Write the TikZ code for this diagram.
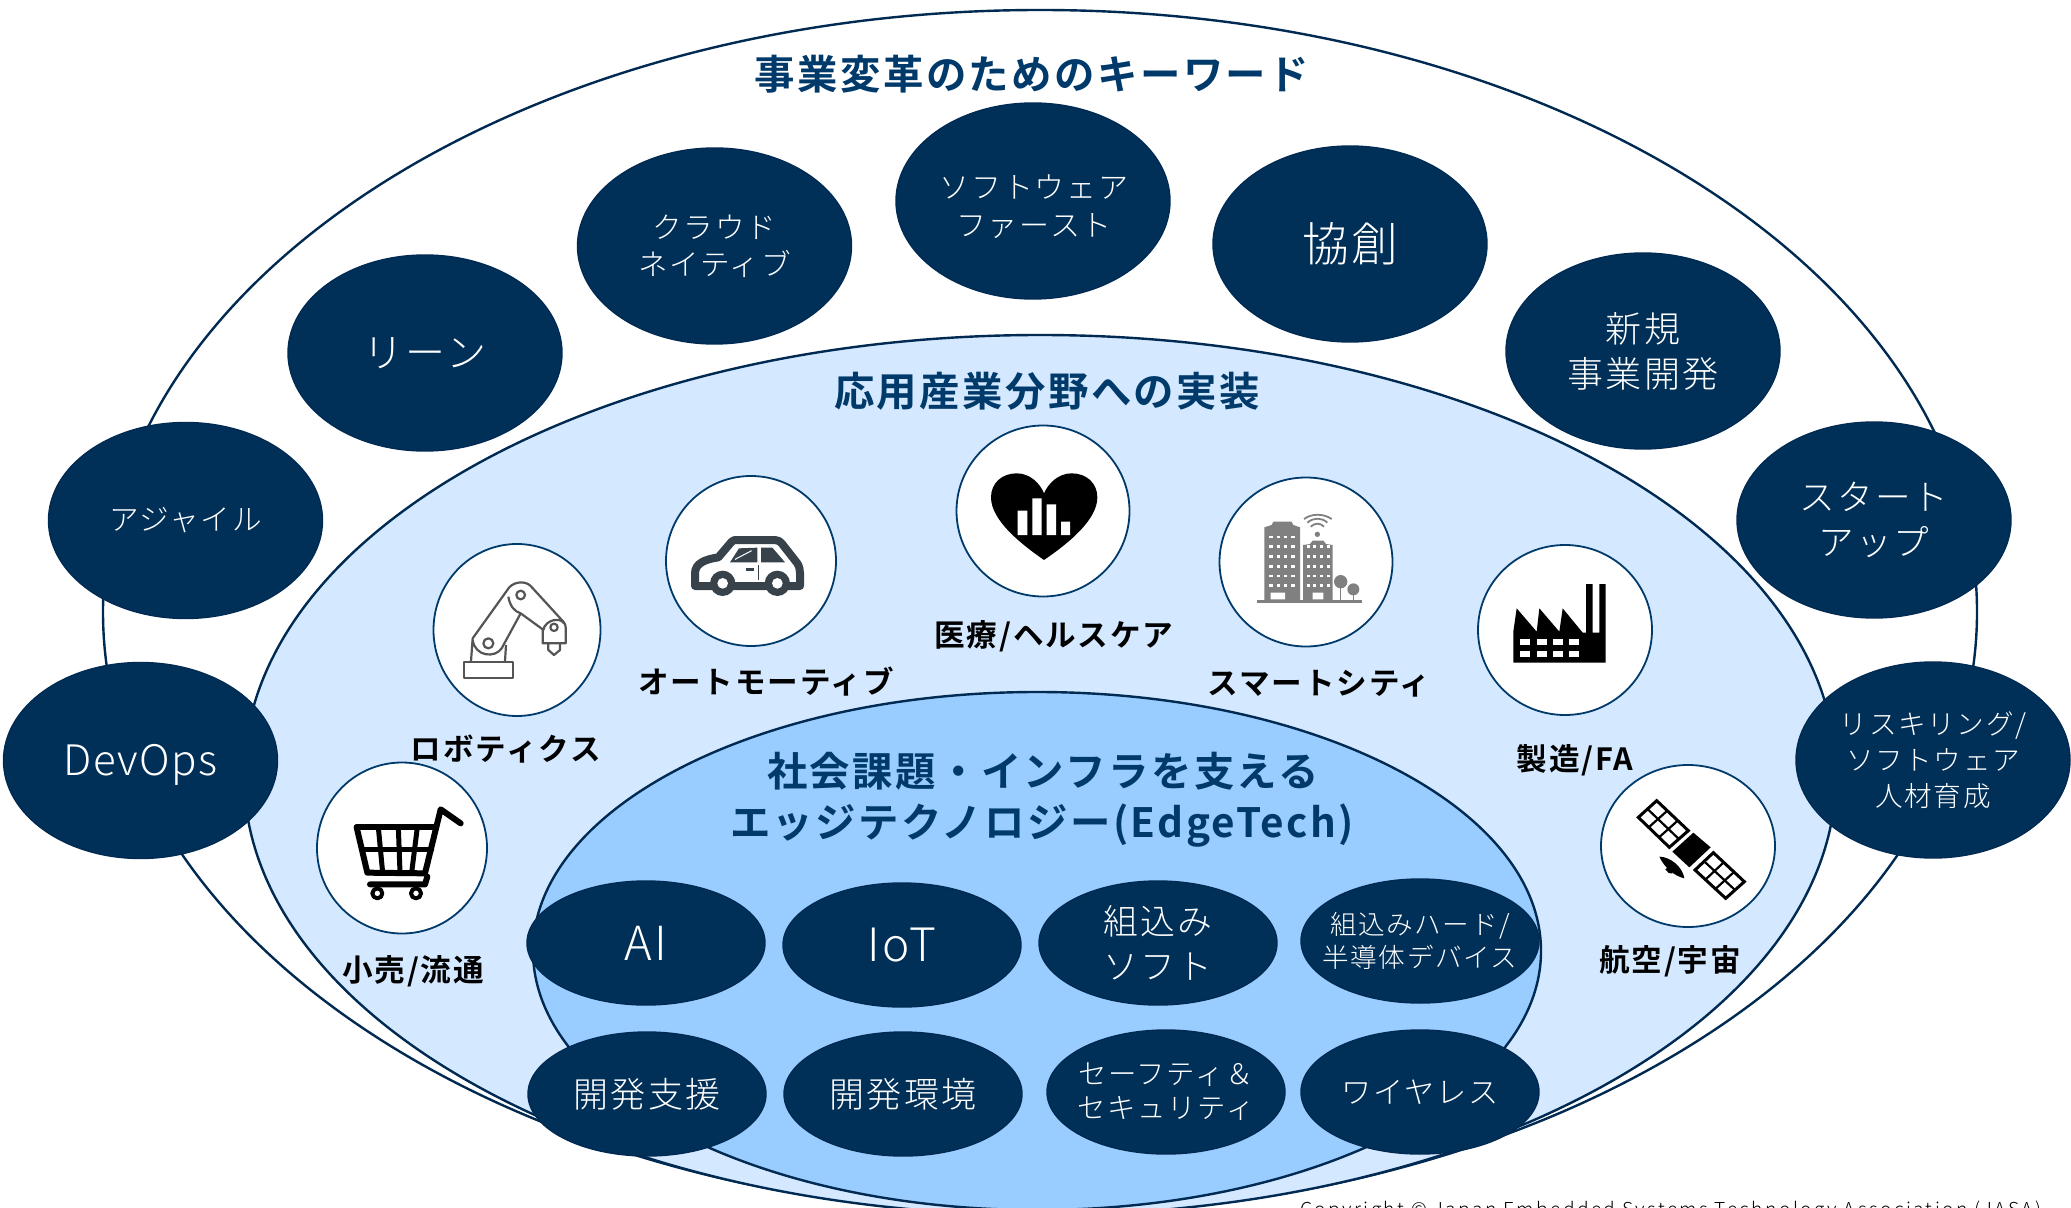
\documentclass[tikz,border=0pt]{standalone}
\usepackage{fontspec}
\usetikzlibrary{shapes.geometric}
\newfontfamily\jpl[LetterSpace=6]{Noto Sans CJK JP Light}
\newfontfamily\jpb[LetterSpace=6]{Noto Sans CJK JP Bold}
\newfontfamily\devfont[LetterSpace=3]{Noto Sans CJK JP Light}
\newfontfamily\copyfont[LetterSpace=12.5]{Noto Sans CJK JP Light}
\newcommand{\fsz}[2]{\fontsize{#1pt}{#2pt}\selectfont}
\definecolor{navy}{HTML}{003058}
\definecolor{edge}{HTML}{002A52}
\definecolor{titlec}{HTML}{003A6B}
\definecolor{lightb}{HTML}{D4E8FF}
\definecolor{midb}{HTML}{99CCFF}
\definecolor{carc}{HTML}{37424A}
\definecolor{citygray}{HTML}{808080}
\definecolor{robotc}{HTML}{555555}
\tikzset{
  bigell/.style={ellipse,draw=edge,line width=1.2pt,inner sep=0pt,outer sep=0pt},
  dark/.style={ellipse,draw=edge,fill=navy,line width=.7pt,text=white,inner sep=-15pt,outer sep=0pt,align=center},
  bigdark/.style={dark,minimum width=137pt,minimum height=98pt},
  smalldark/.style={dark,minimum width=119pt,minimum height=62pt},
  iconc/.style 2 args={ellipse,draw=titlec,fill=white,line width=.9pt,minimum width=#1,minimum height=#2,inner sep=0pt,outer sep=0pt},
  lab/.style={font=\jpb\fsz{15.3}{18},text=black,inner sep=0pt},
  ttl/.style={font=\jpb\fsz{20.2}{24},text=titlec,inner sep=0pt},
  inell/.style={text=white,align=center,inner sep=0pt},
  zm/.style={x=.16667pt,y=-.16667pt},
}
\begin{document}
\begin{tikzpicture}[x=.5pt,y=-.5pt]
\useasboundingbox (0,0) rectangle (2071,1208);
\clip (0,0) rectangle (2071,1208);
\fill[white] (0,0) rectangle (2071,1208);
% nested ellipses
\node[bigell,fill=white,minimum width=937pt,minimum height=602pt] (outer) at (1040,612) {};
\node[bigell,fill=lightb,minimum width=796pt,minimum height=440pt] (middle) at (1040,775) {};
\node[bigell,fill=midb,minimum width=504pt,minimum height=259pt] (inner) at (1037,951) {};
% titles
\node[ttl] (t1) at (1032,74) {事業変革のためのキーワード};
\node[ttl] (t2) at (1047,391) {応用産業分野への実装};
\node[ttl] (t3) at (1043,771) {社会課題・インフラを支える};
\node[ttl] (t4) at (1042,826) {エッジテクノロジー(EdgeTech)};
% outer ring
\node[bigdark,font=\jpl\fsz{14.8}{18}] (agile) at (185.5,520.5) {アジャイル};
\node[bigdark] (devops) at (140.5,760.5) {};
\node[inell,font=\devfont\fsz{21}{26}] (devopst) at (140.5,765) {DevOps};
\node[bigdark,font=\jpl\fsz{20}{24}] (lean) at (425,353) {リーン};
\node[bigdark,font=\jpl\fsz{14.8}{18.5}] (cloud) at (714.5,246) {クラウド\\ネイティブ};
\node[bigdark] (sw) at (1033,201) {};
\node[inell,font=\jpl\fsz{15}{19}] (swt) at (1034,207) {ソフトウェア\\ファースト};
\node[bigdark,font=\jpl\fsz{23.3}{28}] (kyoso) at (1350,244) {協創};
\node[bigdark,font=\jpl\fsz{18}{22.5}] (shinki) at (1643,351) {新規\\事業開発};
\node[bigdark,font=\jpl\fsz{17.8}{22.5}] (startup) at (1874,520) {スタート\\アップ};
\node[bigdark,font=\jpl\fsz{13.8}{18}] (reskill) at (1933,760) {リスキリング/\\ソフトウェア\\人材育成};
% inner ellipses
\node[smalldark,font=\jpl\fsz{23.5}{26}] (ai) at (646,943) {AI};
\node[smalldark,font=\jpl\fsz{23}{26}] (iot) at (902,945) {IoT};
\node[smalldark,font=\jpl\fsz{17.4}{22.5}] (kumi) at (1158,943) {組込み\\ソフト};
\node[smalldark,font=\jpl\fsz{13.3}{16.5}] (hard) at (1420,941) {組込みハード/\\半導体デバイス};
\node[smalldark,font=\jpl\fsz{17.5}{22}] (dev) at (647,1094) {開発支援};
\node[smalldark,font=\jpl\fsz{17.5}{22}] (env) at (903,1094) {開発環境};
\node[smalldark,font=\jpl\fsz{14.2}{17}] (safe) at (1166,1092) {セーフティ＆\\セキュリティ};
\node[smalldark,font=\jpl\fsz{15.1}{18}] (wire) at (1420,1092) {ワイヤレス};
% icon circles
\node[iconc={83.5pt}{86pt}] (crobot) at (517,630) {};
\node[iconc={85pt}{85pt}] (ccar) at (751,561) {};
\node[iconc={86.5pt}{85.5pt}] (cheart) at (1043,511) {};
\node[iconc={86.5pt}{84.5pt}] (ccity) at (1306,562) {};
\node[iconc={87pt}{85pt}] (cfact) at (1565,630) {};
\node[iconc={85pt}{85.5pt}] (ccart) at (402,848) {};
\node[iconc={87pt}{81pt}] (csat) at (1688,846) {};
% labels
\node[lab] (lrobot) at (506,749) {ロボティクス};
\node[lab] (lcar) at (766,682) {オートモーティブ};
\node[lab] (lheart) at (1054,636) {医療/ヘルスケア};
\node[lab] (lcity) at (1319,684) {スマートシティ};
\node[lab] (lfact) at (1575,760) {製造/FA};
\node[lab] (lcart) at (413,971) {小売/流通};
\node[lab] (lsat) at (1670,961) {航空/宇宙};
\node[font=\copyfont\fsz{9.6}{12},text=black,anchor=base west,inner sep=0pt] (copy) at (1300,1216) {Copyright © Japan Embedded Systems Technology Association (JASA)};
% robot
\begin{scope}[shift={(400,500)},zm,draw=robotc,line width=1.1pt,line join=round]
 \draw (192,485) rectangle (340,535);
 \draw (213,483) -- (218,415) -- (322,270) .. controls (335,245) and (375,240) .. (392,258) -- (490,365) .. controls (495,372) and (497,375) .. (497,382) -- (497,430) -- (428,430) -- (428,388) -- (362,340) -- (305,445) .. controls (285,475) and (225,470) .. (218,420);
 \draw (315,483) -- (318,435);
 \draw (362,340) .. controls (345,335) and (330,320) .. (325,290);
 \draw (430,390) .. controls (435,360) and (480,350) .. (492,370);
 \draw (362,285) circle (13);
 \draw (265,430) circle (15);
 \draw (462,382) circle (11);
 \draw (445,430) -- (445,450) -- (462,465) -- (480,450) -- (480,430);
\end{scope}
% car
\begin{scope}[shift={(400,500)},zm]
 \draw[carc,fill=white,line width=4pt,line join=round] (885,258) -- (885,220) .. controls (885,190) and (915,178) .. (955,172) -- (995,125) .. controls (1000,120) and (1005,120) .. (1010,120) -- (1125,120) .. controls (1135,120) and (1140,125) .. (1145,130) -- (1192,190) .. controls (1198,200) and (1200,210) .. (1200,220) -- (1200,258) -- cycle;
 \fill[carc] (990,187) -- (1017,145) -- (1072,143) -- (1072,187) -- cycle;
 \fill[carc] (1083,143) -- (1117,143) -- (1155,187) -- (1083,187) -- cycle;
 \draw[white,line width=.5pt] (1005,178) -- (1055,152);
 \draw[carc,line width=.5pt] (1076,195) -- (1076,240);
 \fill[carc] (1038,203) rectangle (1062,212);
 \fill[carc] (968,250) circle (38) (1132,250) circle (38);
 \fill[white] (968,250) circle (16) (1132,250) circle (16);
\end{scope}
% heart
\begin{scope}[shift={(920,420)},zm]
 \fill[black] (372,420) .. controls (300,370) and (213,300) .. (213,232) .. controls (213,190) and (245,160) .. (290,160) .. controls (330,160) and (360,190) .. (372,220) .. controls (385,190) and (415,160) .. (455,160) .. controls (500,160) and (532,190) .. (532,232) .. controls (532,300) and (445,370) .. (372,420) -- cycle;
 \fill[white] (293,272) rectangle (322,345) (337,235) rectangle (365,345) (380,253) rectangle (408,345) (423,305) rectangle (450,345);
\end{scope}
% smart city
\begin{scope}[shift={(920,420)},zm]
 \fill[citygray] (1033,540) -- (1033,322) -- (1055,315) -- (1060,305) -- (1115,305) -- (1120,315) -- (1140,322) -- (1140,540) -- cycle;
 \fill[citygray] (1149,540) -- (1149,375) -- (1170,372) -- (1178,362) -- (1210,362) -- (1218,372) -- (1238,375) -- (1238,540) -- cycle;
 \fill[citygray] (1012,540) rectangle (1325,548);
 \foreach \yy in {347,376,405,435,464,493} \foreach \xx in {1048,1070,1092,1114}
   \fill[white] (\xx,\yy) rectangle +(10,8);
 \foreach \yy in {376,405,435,464,493} \foreach \xx in {1160,1180,1200,1220}
   \fill[white] (\xx,\yy) rectangle +(9,8);
 \fill[white] (1052,518) rectangle (1095,538) (1178,518) rectangle (1210,538);
 \fill[citygray] (1262,485) circle (20) (1300,508) circle (18);
 \draw[citygray,line width=.7pt] (1262,500) -- (1262,540) (1300,520) -- (1300,540);
 \fill[citygray] (1192,343) circle (8);
 \draw[citygray,line width=.9pt] (1172,320) .. controls (1185,308) and (1200,308) .. (1212,320);
 \draw[citygray,line width=.9pt] (1162,308) .. controls (1180,292) and (1205,292) .. (1222,308);
 \draw[citygray,line width=.9pt] (1152,297) .. controls (1175,280) and (1210,280) .. (1235,297);
\end{scope}
% factory
\begin{scope}[shift={(1460,530)},zm]
 \fill[black] (160,398) -- (160,305) -- (170,235) -- (230,305) -- (238,235) -- (298,305) -- (308,235) -- (368,308) -- (378,308) -- (378,162) -- (398,162) -- (398,308) -- (418,308) -- (418,162) -- (437,162) -- (437,398) -- cycle;
 \foreach \xx in {180,230,279,328} {
  \fill[white] (\xx,326) rectangle +(30,18);
  \fill[white] (\xx,362) rectangle +(30,18);
 }
\end{scope}
% cart
\begin{scope}[shift={(290,740)},zm,draw=black,line cap=round,line join=round]
 \draw[line width=3pt] (200,262) -- (438,262);
 \draw[line width=3pt] (512,250) -- (452,208) -- (405,400) -- (232,398) -- (200,262);
 \draw[line width=2.5pt] (218,328) -- (425,328);
 \draw[line width=2.5pt] (265,262) -- (278,398) (325,262) -- (330,398) (382,262) -- (365,398);
 \draw[line width=3pt] (240,433) -- (405,433) -- (412,410);
 \draw[line width=2pt,fill=white] (262,460) circle (15) (378,460) circle (15);
\end{scope}
% satellite
\begin{scope}[shift={(1560,740)},zm,draw=black,line join=miter]
 \draw[line width=1.5pt,fill=white] (290,182) -- (385,272) -- (328,322) -- (235,232) -- cycle;
 \draw[line width=1.1pt] (262.5,207) -- (356.5,297) (322,212) -- (266,262) (353,242) -- (297,292);
 \draw[line width=1.5pt,fill=white] (460,338) -- (553,425) -- (497,475) -- (405,390) -- cycle;
 \draw[line width=1.1pt] (432.5,364) -- (525,450) (491,367) -- (436,419) (522,396) -- (466,447);
 \fill[black] (400,278) -- (452,322) -- (388,382) -- (337,335) -- cycle;
 \fill[black] (298,350) .. controls (330,350) and (368,380) .. (373,415) .. controls (343,408) and (313,383) .. (298,350) -- cycle;
 \fill[black] (316,388) .. controls (320,381) and (326,381) .. (333,385) -- (338,400) .. controls (328,401) and (320,397) .. (316,388) -- cycle;
\end{scope}
\end{tikzpicture}
\end{document}
